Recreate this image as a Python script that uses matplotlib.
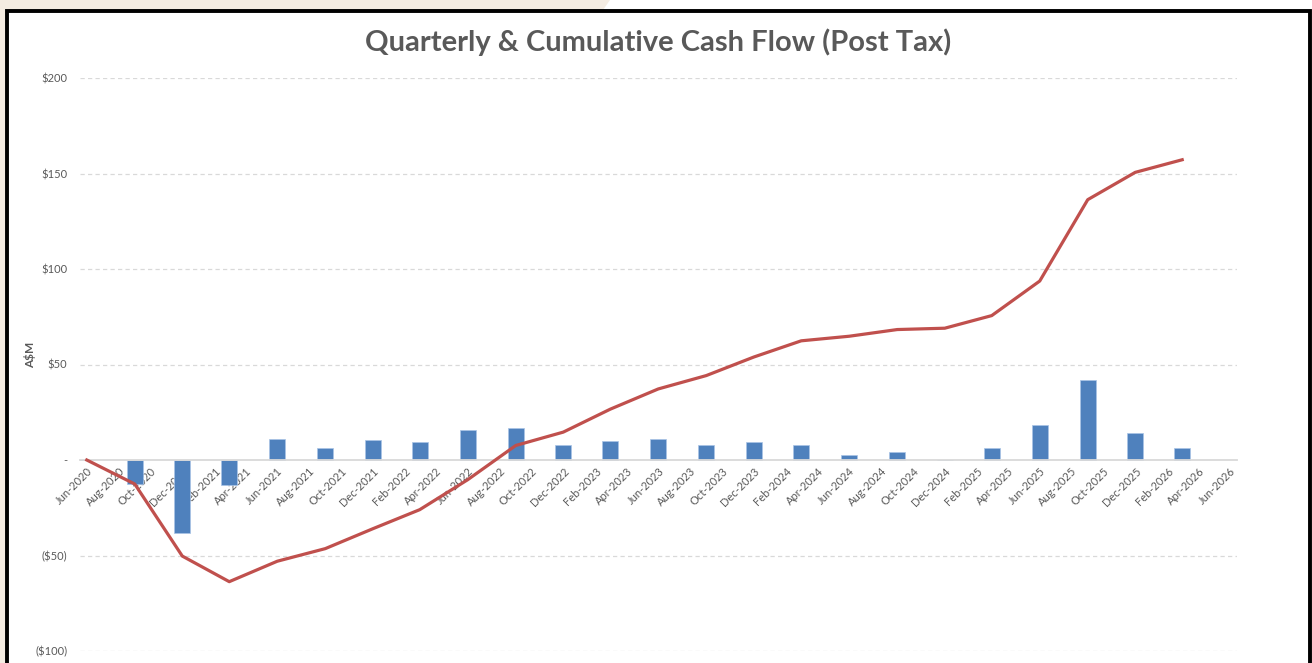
import numpy as np
import pandas as pd
import matplotlib
matplotlib.use("Agg")
import matplotlib.pyplot as plt
import matplotlib.dates as mdates
from matplotlib.patches import Polygon, Rectangle
from matplotlib.ticker import FuncFormatter

# quarterly cash flow (A$M) and cumulative position
quarters = ["Jun-2020", "Sep-2020", "Dec-2020", "Mar-2021", "Jun-2021", "Sep-2021",
            "Dec-2021", "Mar-2022", "Jun-2022", "Sep-2022", "Dec-2022", "Mar-2023",
            "Jun-2023", "Sep-2023", "Dec-2023", "Mar-2024", "Jun-2024", "Sep-2024",
            "Dec-2024", "Mar-2025", "Jun-2025", "Sep-2025", "Dec-2025", "Mar-2026"]
quarterly = [0.0, -12.6, -38.0, -13.2, 11.0, 6.4,
             10.5, 9.6, 15.5, 16.7, 7.7, 10.0,
             11.1, 7.6, 9.5, 7.7, 2.5, 4.0,
             0.0, 6.3, 18.1, 41.8, 13.9, 6.3]
cumulative = [0.0, -12.6, -50.3, -63.7, -53.0, -46.4,
              -36.0, -26.0, -10.3, 7.6, 14.6, 26.6,
              37.2, 44.2, 53.9, 62.4, 64.8, 68.3,
              69.0, 75.6, 93.7, 136.3, 150.6, 157.2]
y_ticks = [-100, -50, 0, 50, 100, 150, 200]

dates = pd.to_datetime(quarters, format="%b-%Y")
tick_dates = pd.date_range("2020-06-01", "2026-06-01", freq="2MS")

W, H = 1312, 663
fig = plt.figure(figsize=(W / 100, H / 100), dpi=100)
fig.patch.set_facecolor("white")

# beige page background peeking out top-left, and the black frame
beige = [(0, 0), (610, 0), (603, 10), (5, 10), (5, 663), (0, 663)]
fig.patches.append(Polygon([(x / W, 1 - y / H) for x, y in beige], closed=True,
                           transform=fig.transFigure, facecolor="#f4ece2",
                           edgecolor="none", zorder=0))
fig.patches.append(Rectangle((7 / W, -0.1), (1309.5 - 7) / W, 1.1 - 11.5 / H,
                             transform=fig.transFigure, facecolor="none",
                             edgecolor="black", lw=2.8, zorder=5))

ax = fig.add_axes([80 / W, 12 / H, (1237 - 80) / W, (651 - 78) / H])
ax.set_facecolor("none")

for v in y_ticks:
    if v != 0:
        ax.axhline(v, color="#d9d9d9", lw=0.9, ls=(0, (3.4, 2.6)), zorder=1)

ax.bar(dates, quarterly, width=30, color="#4f81bd", edgecolor="#a9c4e6",
       linewidth=0.5, zorder=2)
ax.plot(dates, cumulative, color="#c0504d", lw=2.3, zorder=3,
        solid_joinstyle="round")

ax.set_ylim(-100, 200)
ax.set_xlim(pd.Timestamp("2020-06-01") - pd.Timedelta(days=13),
            pd.Timestamp("2026-06-01") + pd.Timedelta(days=13))

def money(v, pos):
    if v == 0:
        return "-"
    if v < 0:
        return r"(\$%d)" % abs(v)
    return r"\$%d" % v

ax.set_yticks(y_ticks)
ax.yaxis.set_major_formatter(FuncFormatter(money))
ax.set_xticks(tick_dates)
ax.xaxis.set_major_formatter(mdates.DateFormatter("%b-%Y"))

for s in ["top", "right", "left"]:
    ax.spines[s].set_visible(False)
ax.spines["bottom"].set_position(("data", 0))
ax.spines["bottom"].set_color("#d9d9d9")
ax.spines["bottom"].set_linewidth(1.3)

ax.tick_params(axis="both", length=0, colors="#595959", labelsize=8)
ax.tick_params(axis="y", pad=9)
ax.tick_params(axis="x", pad=4)
for lab in ax.get_xticklabels():
    lab.set_fontfamily("Lato")
    lab.set_rotation(45)
    lab.set_ha("right")
    lab.set_rotation_mode("anchor")
for lab in ax.get_yticklabels():
    lab.set_fontfamily("Lato")

fig.text(658 / W, 1 - 42 / H, "Quarterly & Cumulative Cash Flow (Post Tax)",
         ha="center", va="center", fontsize=21, fontweight="bold",
         color="#595959", family="Lato")
fig.text(30 / W, 1 - 355 / H, r"A\$M", rotation=90, ha="center", va="center",
         fontsize=8.5, fontweight="bold", color="#595959", family="Lato")

fig.savefig("out.png", dpi=100)
